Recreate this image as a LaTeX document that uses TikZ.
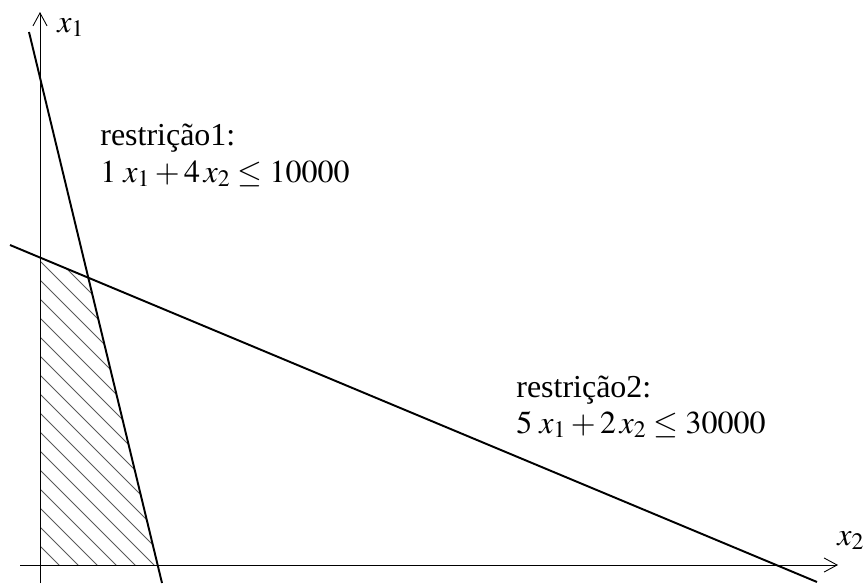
\documentclass[tikz,border=0pt]{standalone}
\usepackage{mathptmx}
\usepackage[no-math]{fontspec}
\setmainfont{Liberation Serif}
\usetikzlibrary{arrows.meta}

\begin{document}
\begin{tikzpicture}[x=0.02cm,y=0.02cm,font=\fontsize{18.2}{22}\selectfont,
    axis/.style={line width=0.5pt,-{Straight Barb[length=7.4pt,width=8pt]}},
    limit/.style={line width=1.1pt},
    hatch/.style={gray!70!black,line width=0.45pt},
    lbl/.style={anchor=base west,inner sep=0pt}]
  \useasboundingbox (0,0) rectangle (865,583);
  \coordinate (O) at (40,18);
  \coordinate (Y0) at (40,0);
  \coordinate (Y1) at (40,571);
  \coordinate (X0) at (20,18);
  \coordinate (X1) at (838,18);
  \coordinate (P) at (29,551);
  \coordinate (Q) at (162,0);
  \coordinate (R) at (10,338);
  \coordinate (S) at (817,1);
  \coordinate (A) at (intersection of R--S and Y0--Y1);
  \coordinate (B) at (intersection of P--Q and R--S);
  \coordinate (C) at (intersection of P--Q and X0--X1);

  % feasible region
  \begin{scope}
    \clip (O) -- (A) -- (B) -- (C) -- cycle;
    \foreach \k in {-3,...,16}
      \draw[hatch] (0,{343-19*(\k)}) -- ({343-19*(\k)},0);
  \end{scope}

  \draw[axis] (Y0) -- (Y1);
  \draw[axis] (X0) -- (X1);
  \draw[limit] (P) -- (Q);
  \draw[limit] (R) -- (S);

  \node[lbl] (lx1) at (57,551) {$x_1$};
  \node[lbl] (lx2) at (837,38) {$x_2$};
  \node[lbl] (r1a) at (100,438) {restrição1:};
  \node[lbl] (r1b) at (100,401) {$1\;x_1+4\,x_2\leq 10000$};
  \node[lbl] (r2a) at (516,186) {restrição2:};
  \node[lbl] (r2b) at (516,150) {$5\;x_1+2\,x_2\leq 30000$};
\end{tikzpicture}
\end{document}
